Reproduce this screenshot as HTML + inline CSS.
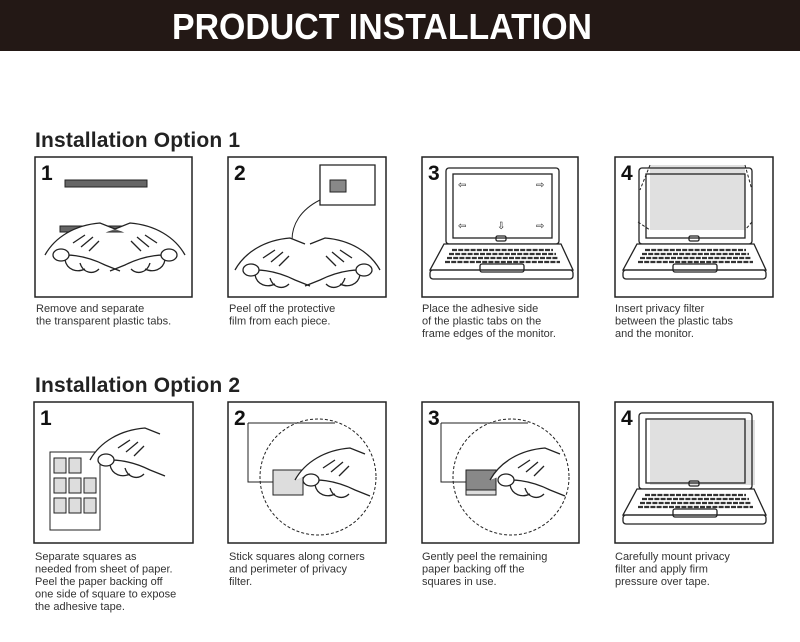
<!DOCTYPE html>
<html><head><meta charset="utf-8"><style>
body{margin:0;width:800px;height:637px;background:#fff;overflow:hidden;font-family:"Liberation Sans",sans-serif}
</style></head><body>
<svg width="800" height="637" viewBox="0 0 800 637" xmlns="http://www.w3.org/2000/svg">
<defs>
<g id="lap" fill="none" stroke="#222" stroke-width="1.3">
 <rect x="24" y="11" width="113" height="76" rx="3"/>
 <rect x="31" y="17" width="99" height="64"/>
 <path d="M22 87 L139 87 L151 113 L8 113 Z" fill="#fff"/>
 <rect x="8" y="113" width="143" height="9" rx="3"/>
 <g stroke="#333" stroke-width="2.2" stroke-dasharray="5 1.2">
  <line x1="30" y1="93" x2="131" y2="93"/><line x1="27" y1="97" x2="134" y2="97"/>
  <line x1="25" y1="101" x2="136" y2="101"/><line x1="23" y1="105" x2="138" y2="105"/>
 </g>
 <rect x="58" y="107" width="44" height="8" rx="2"/>
 <rect x="74" y="79" width="10" height="5" rx="1.5"/>
</g>
<g id="hand" fill="#fff" stroke="#222" stroke-width="1.3">
 <path d="M0 30 C10 12 30 0 55 -2 L70 4 M8 32 C20 28 40 30 60 40 M20 35 C22 45 32 48 40 44 M35 38 C38 48 48 50 54 44 M60 40 L75 46"/>
 <ellipse cx="16" cy="30" rx="8" ry="6"/>
 <path d="M28 18 L40 10 M36 22 L48 12 M44 26 L54 16"/>
</g>
</defs>
<rect x="0" y="0" width="800" height="51" fill="#231815"/>
<text x="172" y="39" textLength="420" lengthAdjust="spacingAndGlyphs" fill="#fff" font-size="36" font-weight="bold" font-family="Liberation Sans,sans-serif">PRODUCT INSTALLATION</text>

<text x="35" y="147" font-size="21" font-weight="bold" fill="#222" textLength="205">Installation Option 1</text>
<text x="35" y="392" font-size="21" font-weight="bold" fill="#222" textLength="205">Installation Option 2</text>

<g fill="none" stroke="#222" stroke-width="1.5">
 <rect x="35" y="157" width="157" height="140"/>
 <rect x="228" y="157" width="158" height="140"/>
 <rect x="422" y="157" width="156" height="140"/>
 <rect x="615" y="157" width="158" height="140"/>
 <rect x="34" y="402" width="159" height="141"/>
 <rect x="228" y="402" width="158" height="141"/>
 <rect x="422" y="402" width="157" height="141"/>
 <rect x="615" y="402" width="158" height="141"/>
</g>
<g font-size="21" font-weight="bold" fill="#111" font-family="Liberation Sans Narrow,Liberation Sans,sans-serif">
 <text x="41" y="180">1</text><text x="234" y="180">2</text><text x="428" y="180">3</text><text x="621" y="180">4</text>
 <text x="40" y="425">1</text><text x="234" y="425">2</text><text x="428" y="425">3</text><text x="621" y="425">4</text>
</g>

<rect x="65" y="180" width="82" height="7" fill="#666" stroke="#222"/>
<rect x="60" y="226" width="80" height="6" fill="#666" stroke="#222"/>
<use href="#hand" transform="translate(45,225)"/>
<use href="#hand" transform="translate(185,225) scale(-1,1)"/>
<path d="M320 165 h55 v40 h-55 z" fill="#fff" stroke="#222" stroke-width="1.3"/>
<rect x="330" y="180" width="16" height="12" fill="#888" stroke="#222"/>
<path d="M320 200 C300 210 292 225 292 240" fill="none" stroke="#222"/>
<use href="#hand" transform="translate(235,240)"/>
<use href="#hand" transform="translate(380,240) scale(-1,1)"/>
<use href="#lap" transform="translate(422,157)"/>
<g font-size="10" fill="#222"><text x="458" y="188">⇦</text><text x="536" y="188">⇨</text><text x="458" y="229">⇦</text><text x="536" y="229">⇨</text><text x="497" y="229">⇩</text></g>
<rect x="650" y="165" width="95" height="65" fill="#e0e0e0"/>
<path d="M650 165 L640 190 M745 165 L752 190 M638 222 L650 230 M752 222 L745 230" stroke="#222" stroke-dasharray="3 2"/>
<use href="#lap" transform="translate(615,157)"/>
<rect x="50" y="452" width="50" height="78" fill="#fff" stroke="#222"/>
<g fill="#ddd" stroke="#222"><rect x="54" y="458" width="12" height="15"/><rect x="69" y="458" width="12" height="15"/><rect x="54" y="478" width="12" height="15"/><rect x="69" y="478" width="12" height="15"/><rect x="84" y="478" width="12" height="15"/><rect x="54" y="498" width="12" height="15"/><rect x="69" y="498" width="12" height="15"/><rect x="84" y="498" width="12" height="15"/></g>
<use href="#hand" transform="translate(90,430)"/>
<g id="p2">
<path d="M248 423 h87 v0" fill="none" stroke="#222"/>
<path d="M248 423 V482 h25" fill="none" stroke="#222"/>
<circle cx="318" cy="477" r="58" fill="none" stroke="#222" stroke-dasharray="3 2"/>
<rect x="273" y="470" width="30" height="25" fill="#ddd" stroke="#222"/>
</g>
<use href="#hand" transform="translate(295,450)"/>
<use href="#p2" transform="translate(193,0)"/>
<rect x="466" y="470" width="30" height="20" fill="#888" stroke="#222"/>
<use href="#hand" transform="translate(490,450)"/>
<rect x="650" y="420" width="105" height="65" fill="#e0e0e0"/>
<use href="#lap" transform="translate(615,402)"/>

<g font-size="11" fill="#333">
 <text x="36" y="312">Remove and separate</text><text x="36" y="324.5">the transparent plastic tabs.</text>
 <text x="229" y="312">Peel off the protective</text><text x="229" y="324.5">film from each piece.</text>
 <text x="422" y="312">Place the adhesive side</text><text x="422" y="324.5">of the plastic tabs on the</text><text x="422" y="337">frame edges of the monitor.</text>
 <text x="615" y="312">Insert privacy filter</text><text x="615" y="324.5">between the plastic tabs</text><text x="615" y="337">and the monitor.</text>
 <text x="35" y="560">Separate squares as</text><text x="35" y="572.5">needed from sheet of paper.</text><text x="35" y="585">Peel the paper backing off</text><text x="35" y="597.5">one side of square to expose</text><text x="35" y="610">the adhesive tape.</text>
 <text x="229" y="560">Stick squares along corners</text><text x="229" y="572.5">and perimeter of privacy</text><text x="229" y="585">filter.</text>
 <text x="422" y="560">Gently peel the remaining</text><text x="422" y="572.5">paper backing off the</text><text x="422" y="585">squares in use.</text>
 <text x="615" y="560">Carefully mount privacy</text><text x="615" y="572.5">filter and apply firm</text><text x="615" y="585">pressure over tape.</text>
</g>
</svg>
</body></html>
